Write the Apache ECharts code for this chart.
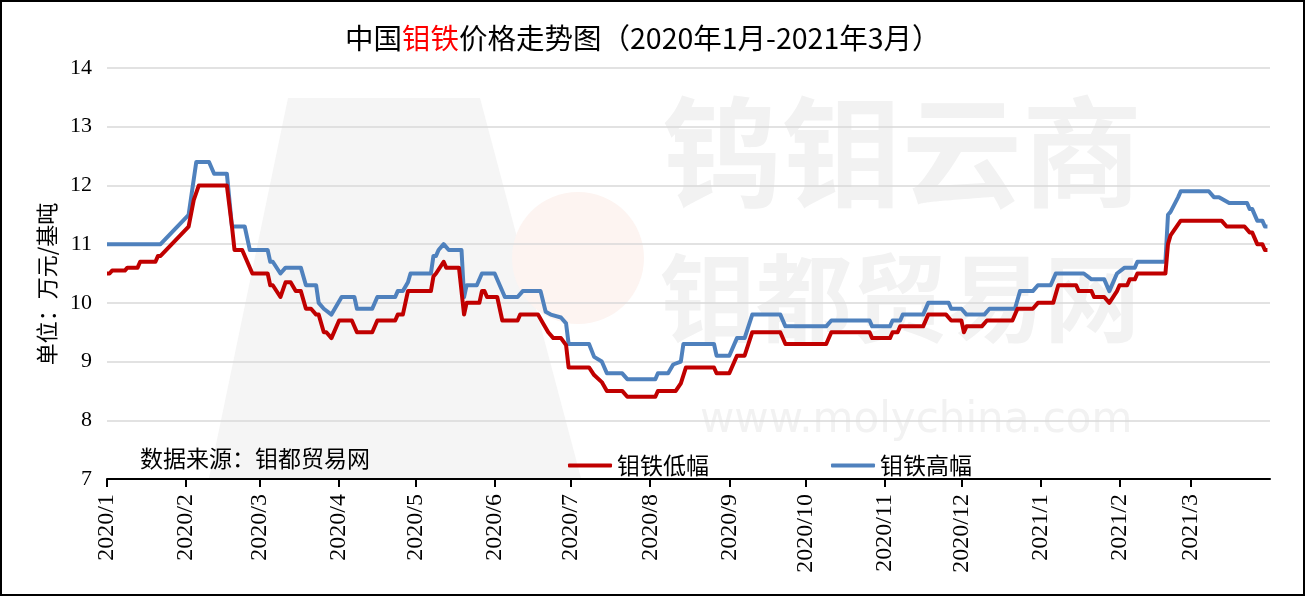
<!DOCTYPE html>
<html>
<head>
<meta charset="utf-8">
<style>
html,body{margin:0;padding:0;background:#fff;}
#chart{width:1305px;height:596px;}
</style>
<script src="https://cdn.jsdelivr.net/npm/echarts@6/dist/echarts.min.js"></script>
</head>
<body>
<div id="chart"></div>
<script>
// Day offsets from 2020-01-01 for each month start (tick positions)
const monthDays = [0,31,60,91,121,152,182,213,244,274,305,335,366,397,425];
const monthLabels = ['2020/1','2020/2','2020/3','2020/4','2020/5','2020/6','2020/7','2020/8','2020/9','2020/10','2020/11','2020/12','2021/1','2021/2','2021/3'];
const yTicks = [7,8,9,10,11,12,13,14];

// 钼铁低幅: [day offset from 2020-01-01, price (万元/基吨)]
const lowSeries = [
[0,10.5],[1,10.5],[2,10.55],[7,10.55],[8,10.6],[12,10.6],[13,10.7],[19,10.7],[20,10.8],[21,10.8],
[32,11.3],[34,11.75],[36,12.0],[47,12.0],[49,11.3],[50,10.9],[53,10.9],[55,10.7],[57,10.5],[63,10.5],
[64,10.3],[65,10.3],[68,10.1],[70,10.35],[72,10.35],[74,10.2],[76,10.2],[78,9.9],[80,9.9],[82,9.8],
[83,9.8],[85,9.5],[86,9.5],[88,9.4],[91,9.7],[96,9.7],[98,9.5],[104,9.5],[106,9.7],[113,9.7],
[114,9.8],[116,9.8],[118,10.2],[127,10.2],[128,10.45],[129,10.5],[132,10.7],[133,10.6],[138,10.6],[140,9.8],
[141,10.0],[146,10.0],[147,10.2],[148,10.2],[149,10.1],[153,10.1],[155,9.7],[161,9.7],[162,9.8],[169,9.8],
[171,9.65],[173,9.5],[175,9.4],[178,9.4],[180,9.28],[181,8.9],[189,8.9],[191,8.77],[194,8.65],[196,8.5],
[202,8.5],[204,8.4],[215,8.4],[216,8.5],[223,8.5],[225,8.63],[227,8.9],[238,8.9],[239,8.8],[244,8.8],
[247,9.1],[250,9.1],[253,9.5],[264,9.5],[266,9.3],[282,9.3],[284,9.5],[299,9.5],[300,9.4],[307,9.4],
[308,9.5],[310,9.5],[311,9.6],[320,9.6],[322,9.8],[329,9.8],[331,9.7],[335,9.7],[336,9.5],[337,9.6],
[343,9.6],[345,9.7],[355,9.7],[357,9.9],[363,9.9],[365,10.0],[371,10.0],[373,10.3],[380,10.3],[381,10.2],
[386,10.2],[387,10.1],[391,10.1],[393,10.0],[396,10.2],[397,10.3],[400,10.3],[401,10.4],[403,10.4],[404,10.5],
[415,10.5],[416,11.0],[417,11.15],[421,11.4],[437,11.4],[439,11.3],[446,11.3],[448,11.2],[449,11.2],[451,11.0],
[453,11.0],[454,10.9],[455,10.9]
];

// 钼铁高幅
const highSeries = [
[0,11.0],[21,11.0],[32,11.5],[35,12.4],[40,12.4],[42,12.2],[47,12.2],[49,11.3],[54,11.3],[56,10.9],
[63,10.9],[64,10.7],[65,10.7],[68,10.5],[70,10.6],[76,10.6],[78,10.3],[82,10.3],[83,10.0],[85,9.9],
[88,9.8],[92,10.1],[97,10.1],[98,9.9],[104,9.9],[106,10.1],[113,10.1],[114,10.2],[116,10.2],[118,10.35],
[119,10.5],[127,10.5],[128,10.8],[129,10.8],[130,10.9],[132,11.0],[134,10.9],[139,10.9],[140,10.1],[141,10.3],
[145,10.3],[147,10.5],[152,10.5],[154,10.3],[156,10.1],[161,10.1],[163,10.2],[170,10.2],[172,9.85],[174,9.8],
[178,9.75],[180,9.65],[181,9.3],[189,9.3],[191,9.08],[194,9.0],[196,8.8],[202,8.8],[204,8.7],[215,8.7],
[216,8.8],[220,8.8],[222,8.95],[225,9.0],[226,9.3],[238,9.3],[239,9.1],[244,9.1],[247,9.4],[250,9.4],
[253,9.8],[264,9.8],[266,9.6],[282,9.6],[284,9.7],[299,9.7],[300,9.6],[307,9.6],[308,9.7],[311,9.7],
[312,9.8],[320,9.8],[322,10.0],[330,10.0],[331,9.9],[335,9.9],[337,9.8],[344,9.8],[346,9.9],[356,9.9],
[358,10.2],[363,10.2],[365,10.3],[370,10.3],[372,10.5],[383,10.5],[386,10.4],[391,10.4],[393,10.2],[396,10.5],
[399,10.6],[403,10.6],[404,10.7],[415,10.7],[416,11.5],[417,11.55],[420,11.8],[421,11.9],[432,11.9],[434,11.8],
[436,11.8],[440,11.7],[447,11.7],[448,11.6],[449,11.6],[451,11.4],[453,11.4],[454,11.3],[455,11.3]
];

const chart = echarts.init(document.getElementById('chart'), null, {renderer:'canvas'});
const serif = '"Liberation Serif","DejaVu Serif",serif';
const cjk = '"Noto Sans CJK SC","Noto Sans",sans-serif';
const wm = '#f2f2f2';

chart.setOption({
  backgroundColor:'#ffffff',
  animation:false,
  title:{
    text:'{a|中国}{r|钼铁}{a|价格走势图（2020年1月-2021年3月）}',
    left:340, top:19,
    textStyle:{
      fontWeight:'normal',
      rich:{
        a:{fontSize:28.5,color:'#000',fontFamily:cjk,fontWeight:'normal'},
        r:{fontSize:28.5,color:'#ff0000',fontFamily:cjk,fontWeight:'normal'}
      }
    }
  },
  graphic:[
    {type:'rect',z:100,silent:true,shape:{x:1,y:1,width:1303,height:594},style:{fill:null,stroke:'#000',lineWidth:2}},
    // faint background logo
    {type:'polygon',z:-20,silent:true,shape:{points:[[288,98],[480,98],[581,478],[209,478]]},style:{fill:'#f5f5f5'}},
    {type:'circle',z:-19,silent:true,shape:{cx:578,cy:258,r:66},style:{fill:'#fdf4f1'}},
    {type:'text',z:-10,silent:true,left:662,top:92,style:{text:'钨钼云商',fontSize:120,fontWeight:'bold',fill:wm,fontFamily:cjk}},
    {type:'text',z:-10,silent:true,left:660,top:250,style:{text:'钼都贸易网',fontSize:96,fontWeight:'bold',fill:wm,fontFamily:cjk}},
    {type:'text',z:-10,silent:true,left:700,top:400,style:{text:'www.molychina.com',fontSize:42,fill:wm,fontFamily:'"DejaVu Sans",sans-serif'}},
    {type:'text',z:50,silent:true,left:140,top:447,style:{text:'数据来源：钼都贸易网',fontSize:23,fill:'#000',fontFamily:cjk}},
    {type:'text',z:50,silent:true,x:47,y:284,rotation:Math.PI/2,
     style:{text:'单位：万元/基吨',fontSize:22,fill:'#000',fontFamily:cjk,align:'center',verticalAlign:'middle'}}
  ],
  legend:{
    data:['钼铁低幅','钼铁高幅'],
    left:563, top:449,
    itemWidth:44, itemHeight:4, itemGap:122,
    icon:'roundRect',
    textStyle:{fontSize:23,color:'#000',fontFamily:cjk}
  },
  grid:{left:107,right:35,top:68,bottom:117,containLabel:false},
  xAxis:{
    type:'value',
    min:0, max:456,
    axisLine:{show:true,lineStyle:{color:'#000',width:2}},
    axisTick:{show:true,length:8,lineStyle:{color:'#000',width:2},customValues:monthDays},
    axisLabel:{
      customValues:monthDays,
      rotate:90, margin:15, fontSize:24, color:'#000', fontFamily:serif,
      formatter:function(v){const i=monthDays.indexOf(Math.round(v));return i>=0?monthLabels[i]:'';}
    },
    splitLine:{show:false}
  },
  yAxis:{
    type:'value',
    min:yTicks[0], max:yTicks[yTicks.length-1], interval:1,
    axisLine:{show:false}, axisTick:{show:false},
    axisLabel:{fontSize:22,color:'#000',fontFamily:serif,margin:15},
    splitLine:{show:true,lineStyle:{color:'#d9d9d9',width:1.5}}
  },
  series:[
    {name:'钼铁高幅',type:'line',data:highSeries,showSymbol:false,symbol:'none',
     lineStyle:{color:'#4f81bd',width:4,join:'round'},itemStyle:{color:'#4f81bd'},z:3},
    {name:'钼铁低幅',type:'line',data:lowSeries,showSymbol:false,symbol:'none',
     lineStyle:{color:'#c00000',width:4,join:'round'},itemStyle:{color:'#c00000'},z:4}
  ]
});
</script>
</body>
</html>
